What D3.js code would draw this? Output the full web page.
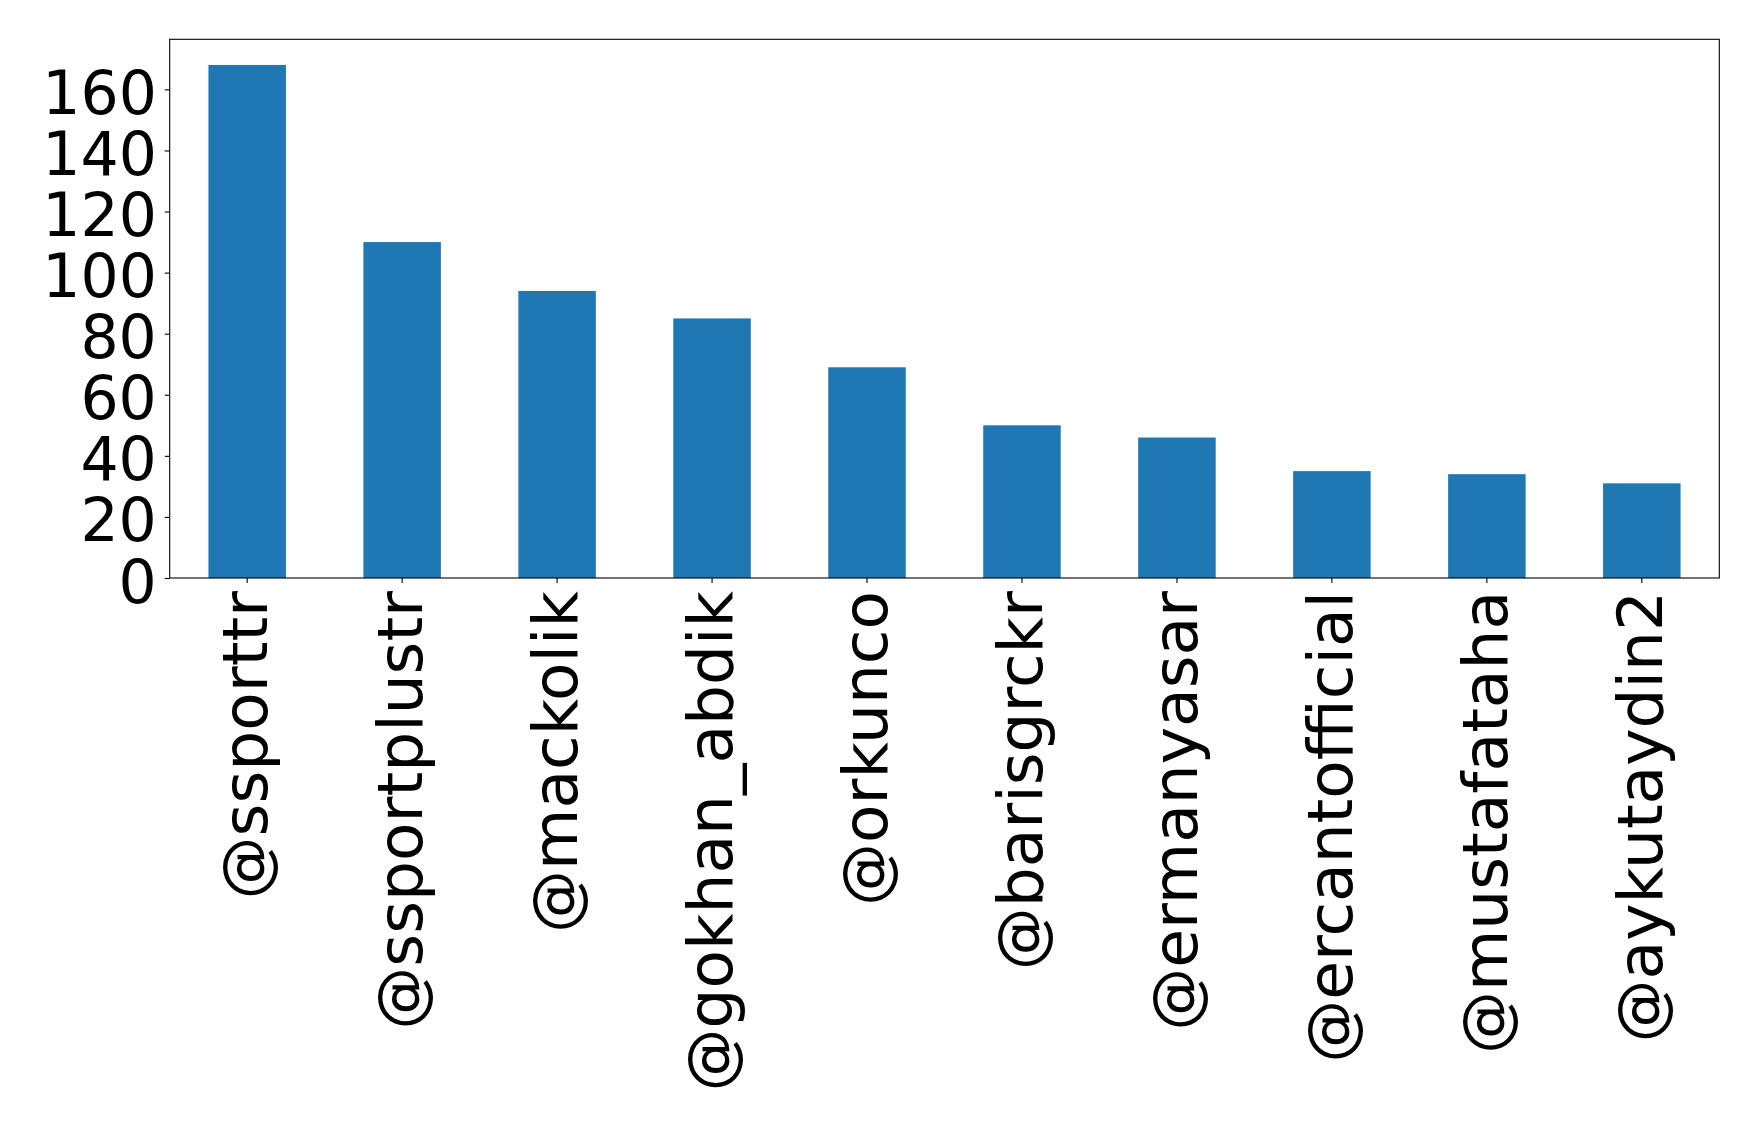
<!DOCTYPE html>
<html>
<head>
<meta charset="utf-8">
<script src="https://cdn.jsdelivr.net/npm/d3@7"></script>
<style>
  body { margin: 0; background: #fff; }
  text { font-family: "DejaVu Sans", sans-serif; fill: #000; }
</style>
</head>
<body>
<svg class="chart"></svg>
<script>
// top 10 accounts, counts
let accounts = ['@ssporttr', '@ssportplustr', '@mackolik', '@gokhan_abdik', '@orkunco',
                '@barisgrckr', '@ermanyasar', '@ercantofficial', '@mustafataha', '@aykutaydin2']
let counts = [168, 110, 94, 85, 69, 50, 46, 35, 34, 31]
let yTicks = [0, 20, 40, 60, 80, 100, 120, 140, 160]

window.onload = function() {
    let margin = {top: 39.3, right: 38.7, bottom: 546, left: 169.7}

    let outerWidth = 1758,
        outerHeight = 1124,
        width = outerWidth - margin.left - margin.right,
        height = outerHeight - margin.top - margin.bottom

    let x = d3.scaleBand()
        .domain(accounts)
        .range([0, width])
        .paddingInner(0.5)
        .paddingOuter(0.25)

    // matplotlib pads the max by 5%
    let y = d3.scaleLinear()
        .domain([0, d3.max(counts) * 1.05])
        .range([height, 0])

    let chart = d3.select('.chart')
        .attr('width', outerWidth)
        .attr('height', outerHeight)

    let g = chart.append('g')
        .attr('transform', `translate(${margin.left},${margin.top})`)

    g.selectAll('rect.bar')
        .data(counts)
    .enter().append('rect')
        .attr('class', 'bar')
        .attr('x', (d, i) => x(accounts[i]))
        .attr('y', (d) => y(d))
        .attr('width', x.bandwidth())
        .attr('height', (d) => height - y(d))
        .attr('fill', '#1f77b4')

    // y axis
    let yAxis = g.append('g')
        .call(d3.axisLeft(y).tickValues(yTicks).tickSize(4.9).tickPadding(8).tickSizeOuter(0))
    yAxis.select('.domain').remove()
    yAxis.selectAll('line').attr('stroke', '#000').attr('stroke-width', 1.1)
    yAxis.selectAll('text')
        .attr('font-size', 60)
        .attr('font-family', 'DejaVu Sans')
        .attr('dy', 24)
        .attr('y', 0)

    // x axis
    let xAxis = g.append('g')
        .attr('transform', `translate(0,${height})`)
        .call(d3.axisBottom(x).tickSize(4.9).tickSizeOuter(0))
    xAxis.select('.domain').remove()
    xAxis.selectAll('line').attr('stroke', '#000').attr('stroke-width', 1.1)
    xAxis.selectAll('text')
        .attr('font-size', 63)
        .attr('font-family', 'DejaVu Sans')
        .attr('text-anchor', 'end')
        .attr('dy', null)
        .attr('y', null)
        .attr('transform', 'translate(20,13) rotate(-90)')

    // frame
    g.append('rect')
        .attr('width', width)
        .attr('height', height)
        .attr('fill', 'none')
        .attr('stroke', '#000')
        .attr('stroke-width', 1.1)
}
</script>
</body>
</html>
